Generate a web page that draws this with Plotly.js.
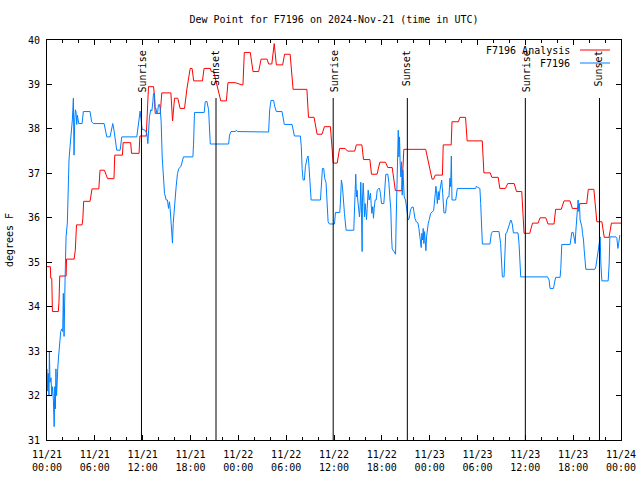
<!DOCTYPE html>
<html>
<head>
<meta charset="utf-8">
<script src="https://cdn.plot.ly/plotly-3.0.1.min.js"></script>
<style>html,body{margin:0;padding:0;background:#fff;}#chart{width:640px;height:480px;}</style>
</head>
<body>
<div id="chart"></div>
<script>
// Hours since 2024-11-21 00:00 UTC
const analysisHours = [0,0.42,0.47,0.6,0.68,1.42,1.5,1.6,2.4,2.45,3.4,3.55,3.7,4.4,4.5,4.6,5.4,5.55,5.65,6.5,6.65,7.2,7.6,8.4,8.5,9.46,9.55,10.5,10.6,11.55,11.65,12.45,12.55,12.73,13.36,13.45,13.57,14.2,14.4,15.54,15.75,16.0,16.4,16.7,17.25,17.55,17.96,18.2,18.4,19.5,19.7,20.5,20.6,20.9,21.8,22.5,22.7,23.6,24.46,24.58,24.75,25.5,25.84,26.55,26.85,27.6,27.8,28.2,28.5,28.77,29.56,29.8,30.5,30.87,32.6,32.8,33.5,33.88,34.5,34.8,35.55,35.9,36.4,36.7,37.4,37.7,38.6,38.8,39.5,39.7,40.5,40.7,41.4,41.75,42.46,42.75,43.3,43.7,44.5,44.76,47.5,47.9,48.3,48.5,48.7,49.6,49.7,50.7,50.8,51.6,51.8,52.5,52.7,54.6,54.8,55.6,55.8,56.6,56.8,57.5,57.8,58.6,58.9,59.55,59.84,60.55,60.9,61.6,61.85,62.56,62.85,63.6,63.8,64.5,64.86,65.6,65.9,66.6,66.9,67.7,67.9,68.6,68.97,69.6,69.9,70.5,70.8,71.6,72];
const analysisValues = [34.9,34.9,34.64,34.64,33.89,33.89,34.1,34.69,34.69,35.07,35.07,35.27,35.84,35.84,35.99,36.37,36.37,36.59,36.65,36.65,37.07,37.07,36.88,36.88,37.41,37.41,37.69,37.69,37.45,37.45,37.84,37.84,38.2,38.95,38.95,38.81,38.35,38.35,38.81,38.81,38.18,38.69,38.69,38.46,38.46,38.9,39.36,39.36,39.08,39.08,39.36,39.36,39.29,39.29,38.63,38.63,39.04,39.04,38.99,38.99,39.72,39.72,39.29,39.29,39.57,39.57,39.46,39.46,39.92,39.44,39.44,39.68,39.68,38.89,38.89,38.26,38.26,37.88,37.88,38.05,38.05,37.23,37.23,37.56,37.56,37.5,37.5,37.64,37.64,37.31,37.31,36.98,36.98,37.25,37.25,37.13,37.13,36.61,36.61,37.54,37.54,37.2,36.87,36.87,36.96,36.96,37.64,37.64,38.16,38.16,38.26,38.26,37.73,37.73,37.01,37.01,36.91,36.91,36.66,36.66,36.77,36.77,36.59,36.59,35.65,35.65,35.88,35.88,36.0,36.0,35.86,35.86,36.19,36.19,36.38,36.38,36.21,36.21,36.32,36.32,36.64,36.64,35.91,35.91,35.56,35.56,35.88,35.88,35.88];

const stationHours = [0,0.08,0.15,0.25,0.3,0.38,0.5,0.6,0.7,0.8,0.9,0.98,1.05,1.12,1.2,1.28,1.35,1.42,1.55,1.72,1.84,1.97,2.05,2.14,2.26,2.39,2.55,2.64,2.76,2.89,3.02,3.1,3.18,3.31,3.39,3.48,3.56,3.64,3.73,3.81,3.98,4.4,4.56,5.4,5.6,5.82,7.16,7.29,7.5,7.91,8.12,8.25,8.42,8.58,8.75,9.17,9.38,11.26,11.39,11.52,11.68,11.81,11.93,12.3,12.52,12.65,12.73,12.85,13.02,13.15,13.28,13.36,13.48,13.57,13.65,13.78,13.9,13.98,14.1,14.2,14.32,14.45,14.61,14.74,14.95,15.11,15.24,15.36,15.45,15.58,15.66,15.74,15.83,15.91,16.04,16.2,16.37,16.54,16.79,16.96,17.12,18.3,18.38,18.5,19.72,19.85,20.06,20.27,20.48,22.78,22.9,23.08,23.62,23.74,23.9,27.8,27.93,28.1,28.43,28.56,28.77,29.48,29.6,29.77,30.74,30.87,31.03,31.78,31.9,32.0,32.12,32.29,32.41,32.62,32.75,32.83,32.96,33.13,34.3,34.42,34.55,34.71,34.84,35.0,35.13,35.26,35.43,36.06,36.18,36.72,36.8,36.93,37.06,37.14,37.31,37.44,37.52,38.48,38.57,38.65,38.73,38.82,38.9,38.98,39.11,39.2,39.28,39.36,39.45,39.53,39.57,39.66,39.74,39.82,39.91,39.99,40.08,40.16,40.29,40.41,40.49,40.58,40.66,40.74,40.87,40.95,41.04,41.16,41.29,41.42,41.58,41.71,41.83,41.96,42.25,42.38,42.5,42.75,42.88,43.0,43.13,43.22,43.3,43.51,43.72,43.8,43.89,43.97,44.06,44.14,44.22,44.3,44.39,44.47,44.56,44.64,44.72,44.81,44.97,45.1,45.19,45.31,45.44,45.6,45.77,45.94,46.02,46.15,46.32,46.52,46.65,46.77,46.86,46.94,47.02,47.11,47.19,47.27,47.36,47.44,47.53,47.61,47.7,47.82,47.95,48.12,48.5,48.66,48.79,48.87,48.96,49.08,49.16,49.29,49.37,49.5,49.58,49.66,49.79,50.0,50.13,50.29,50.42,50.54,50.63,50.72,50.8,51.26,51.47,53.77,53.86,53.98,54.3,54.4,54.52,54.61,55.56,55.74,55.9,56.7,56.9,57.04,57.12,57.33,57.41,57.54,57.66,57.83,58.0,58.17,58.25,58.38,58.5,59.08,59.21,59.34,59.42,62.78,62.98,63.1,63.53,63.73,63.82,64.36,64.45,64.57,65.62,65.7,65.83,66.0,66.12,66.25,66.33,66.46,66.54,66.62,66.71,66.79,66.87,66.96,67.09,67.17,67.3,67.38,67.5,67.59,68.72,68.84,68.97,69.14,69.22,69.31,69.39,69.47,69.6,70.39,70.52,70.6,71.36,71.48,71.61,71.7,71.78,71.86];
const stationValues = [32.6,32.1,32.5,32.0,33.0,32.3,32.4,32.0,32.2,31.9,31.3,32.2,31.7,32.6,32.0,32.6,32.6,32.8,33.13,33.44,33.5,33.44,34.3,33.33,34.56,35.57,35.88,36.7,37.3,37.6,37.82,38.01,38.2,38.69,37.41,38.2,38.43,38.39,38.1,38.31,38.12,38.12,38.39,38.39,38.16,38.12,38.12,38.01,37.82,37.82,38.0,38.12,37.95,37.75,37.52,37.52,37.82,37.82,37.97,38.2,38.4,38.2,37.99,37.97,37.9,37.67,38.1,38.27,38.43,38.4,38.61,38.8,38.8,38.45,38.47,38.35,38.4,38.54,38.55,38.45,38.16,37.37,36.81,36.55,36.4,36.4,36.21,36.36,36.2,35.72,35.7,35.43,35.87,36.1,36.43,36.7,37.0,37.11,37.15,37.3,37.37,37.37,37.64,38.37,38.37,38.61,38.62,38.43,37.66,37.66,37.86,37.94,37.94,37.97,37.94,37.93,38.43,38.64,38.64,38.51,38.39,38.39,38.26,38.1,38.1,37.97,37.84,37.84,37.6,37.11,36.85,36.85,37.15,37.34,37.39,37.25,36.96,36.4,36.4,36.85,37.11,37.11,36.88,36.8,36.36,35.91,35.86,35.86,36.12,36.12,36.32,36.85,36.7,36.4,36.1,35.86,35.72,35.72,36.06,36.7,36.98,36.47,36.62,36.4,36.18,36.02,36.25,36.8,36.1,35.24,36.4,36.78,36.47,36.02,36.32,36.02,35.96,36.21,36.62,36.4,36.47,36.55,36.32,36.1,36.25,35.99,36.21,36.4,36.4,36.62,36.66,36.66,36.55,36.32,36.32,36.85,36.98,36.98,36.8,36.47,36.18,35.57,35.3,35.24,35.18,35.95,36.7,37.52,37.97,37.37,37.82,37.23,36.92,37.26,36.51,37.07,36.78,36.47,36.4,36.18,36.04,35.95,35.99,36.18,36.24,36.24,36.14,35.99,35.91,35.89,35.76,35.57,35.42,35.33,35.65,35.5,35.76,35.42,35.69,35.42,35.26,35.57,35.72,35.87,35.96,36.1,36.16,36.47,36.71,36.55,36.32,36.59,36.4,36.62,36.74,36.85,36.7,36.4,36.11,36.11,36.4,36.47,36.47,36.89,36.7,37.39,36.4,36.4,36.66,36.66,36.71,36.69,36.66,36.32,35.76,35.41,35.41,35.65,35.69,35.69,35.42,34.94,34.67,34.67,35.28,35.65,35.66,35.76,35.87,35.95,35.93,35.84,35.66,35.66,35.42,34.94,34.67,34.67,34.6,34.41,34.41,34.6,34.66,34.66,34.86,35.4,35.4,35.5,35.67,35.67,35.5,35.42,35.69,35.95,36.25,36.4,36.14,36.32,35.95,35.88,35.8,35.65,35.5,35.28,35.05,34.84,34.84,34.9,35.05,35.28,35.35,35.5,35.57,34.98,34.58,34.58,34.98,35.57,35.57,35.54,35.31,35.42,35.54,35.61];

const sunriseHours = [11.85, 35.9, 60.0];
const sunsetHours = [21.2, 45.2, 69.3];
const tickHours = [0,6,12,18,24,30,36,42,48,54,60,66,72];
const tickLabels = ["11/21<br>00:00","11/21<br>06:00","11/21<br>12:00","11/21<br>18:00","11/22<br>00:00","11/22<br>06:00","11/22<br>12:00","11/22<br>18:00","11/23<br>00:00","11/23<br>06:00","11/23<br>12:00","11/23<br>18:00","11/24<br>00:00"];
const seriesNames = ["F7196 Analysis", "F7196"];
const seriesColors = ["#ff0000", "#0080ff"];

const FONT = {family: "DejaVu Sans Mono, Liberation Mono, monospace", size: 10, color: "#000"};

const traces = [
  {x: analysisHours, y: analysisValues, name: seriesNames[0], mode: "lines", line: {color: seriesColors[0], width: 1}},
  {x: stationHours, y: stationValues, name: seriesNames[1], mode: "lines", line: {color: seriesColors[1], width: 1}}
];

const shapes = [];
const annotations = [];
sunriseHours.forEach(h => {
  shapes.push({type: "line", xref: "x", yref: "paper", x0: h, x1: h, y0: 0, y1: 0.855, line: {color: "#000", width: 1}});
  annotations.push({xref: "x", yref: "paper", x: h, y: 0.9225, xshift: 1, text: "Sunrise", textangle: -90, showarrow: false, font: FONT, xanchor: "center", yanchor: "middle"});
});
sunsetHours.forEach(h => {
  shapes.push({type: "line", xref: "x", yref: "paper", x0: h, x1: h, y0: 0, y1: 0.855, line: {color: "#000", width: 1}});
  annotations.push({xref: "x", yref: "paper", x: h, y: 0.93, xshift: 0, text: "Sunset", textangle: -90, showarrow: false, font: FONT, xanchor: "center", yanchor: "middle"});
});
// manual legend (text left, line sample right)
const legendRows = [0.975, 0.9425];
seriesNames.forEach((n, i) => {
  annotations.push({xref: "paper", yref: "paper", x: 0.9146, y: legendRows[i], text: n, showarrow: false, font: FONT, xanchor: "right", yanchor: "middle"});
  shapes.push({type: "line", xref: "paper", yref: "paper", x0: 0.9286, x1: 0.9808, y0: legendRows[i], y1: legendRows[i], line: {color: seriesColors[i], width: 1}});
});

const layout = {
  width: 640, height: 480,
  margin: {l: 47, r: 19, t: 40, b: 40},
  paper_bgcolor: "#fff", plot_bgcolor: "#fff",
  font: FONT,
  showlegend: false,
  title: {text: "Dew Point for F7196 on 2024-Nov-21 (time in UTC)", font: FONT, x: 0.5, xref: "paper", y: 1 - 19/480, yanchor: "middle"},
  xaxis: {
    range: [0, 72], tickvals: tickHours, ticktext: tickLabels,
    ticks: "inside", ticklen: 5, tickcolor: "#000", showline: true, linecolor: "#000", linewidth: 1, mirror: "ticks",
    showgrid: false, zeroline: false, tickfont: FONT, ticklabelstandoff: 5,
    minor: {dtick: 2, tick0: 0, ticks: "inside", ticklen: 3, tickcolor: "#000", showgrid: false}
  },
  yaxis: {
    range: [31, 40], dtick: 1, tick0: 31,
    ticks: "inside", ticklen: 5, tickcolor: "#000", showline: true, linecolor: "#000", linewidth: 1, mirror: "ticks",
    showgrid: false, zeroline: false, tickfont: FONT, ticklabelstandoff: 4,
    title: {text: "degrees F", font: FONT, standoff: 12}
  },
  shapes: shapes,
  annotations: annotations
};

Plotly.newPlot("chart", traces, layout, {staticPlot: true, displayModeBar: false});
</script>
</body>
</html>
